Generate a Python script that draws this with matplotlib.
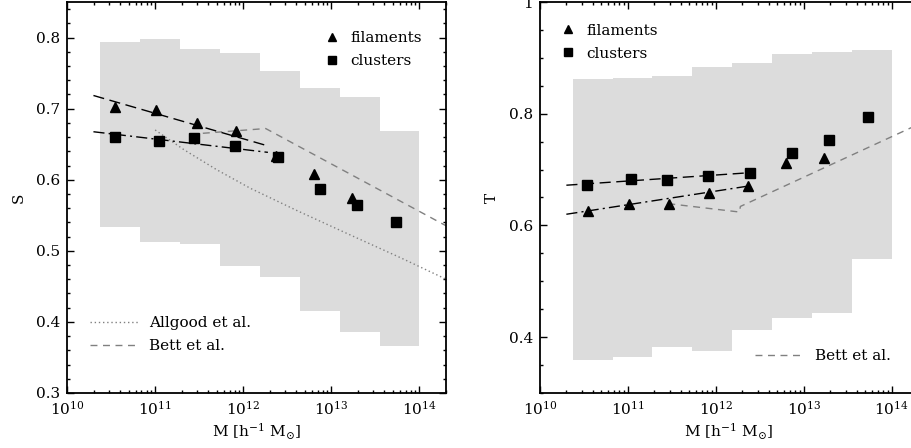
import matplotlib
matplotlib.use("Agg")
import matplotlib.pyplot as plt
from matplotlib.lines import Line2D
from matplotlib.ticker import MultipleLocator, LogLocator, NullFormatter, LogFormatterMathtext

plt.rcParams["font.family"] = ["DejaVu Serif"]
plt.rcParams["mathtext.fontset"] = "dejavuserif"

# ---------- data (log10 of mass in h^-1 Msun) ----------
# step edges of the shaded scatter band
band_edges = [10.37, 10.825, 11.28, 11.735, 12.19, 12.645, 13.10, 13.555, 14.0]
s_hi = [0.794, 0.798, 0.784, 0.778, 0.753, 0.729, 0.717, 0.669]
s_lo = [0.534, 0.512, 0.509, 0.479, 0.463, 0.415, 0.386, 0.366]
t_hi = [0.863, 0.864, 0.867, 0.884, 0.891, 0.907, 0.910, 0.914]
t_lo = [0.359, 0.365, 0.382, 0.376, 0.412, 0.434, 0.443, 0.540]

fil_logm = [10.55, 11.01, 11.47, 11.92, 12.37, 12.80, 13.23]
fil_s = [0.703, 0.698, 0.680, 0.668, 0.634, 0.608, 0.575]
fil_t = [0.626, 0.638, 0.638, 0.658, 0.671, 0.712, 0.721]

clu_logm = [10.54, 11.04, 11.44, 11.91, 12.39, 12.87, 13.29, 13.73]
clu_s = [0.660, 0.655, 0.659, 0.647, 0.632, 0.587, 0.565, 0.540]
clu_t = [0.672, 0.684, 0.681, 0.688, 0.693, 0.730, 0.753, 0.794]

# linear fits to the low-mass points
fil_fit_s_logm, fil_fit_s = [10.30, 12.24], [0.7185, 0.649]
clu_fit_s_logm, clu_fit_s = [10.30, 12.28], [0.6675, 0.6385]
fil_fit_t_logm, fil_fit_t = [10.30, 12.35], [0.620, 0.670]
clu_fit_t_logm, clu_fit_t = [10.30, 12.35], [0.672, 0.694]

# literature relations
allgood_logm = [11.0, 11.33, 11.7, 12.08, 12.62, 13.22, 13.79, 14.32]
allgood_s = [0.670, 0.642, 0.614, 0.588, 0.556, 0.522, 0.490, 0.459]
bett_s_logm = [11.40, 12.255, 14.32]
bett_s = [0.664, 0.672, 0.534]
bett_t_logm = [11.46, 12.27, 12.28, 14.32]
bett_t = [0.639, 0.624, 0.634, 0.782]

BAND = "#dcdcdc"
GREY = "#808080"


def m(logm):
    return [10 ** v for v in logm]


def draw_band(ax, hi, lo):
    edges = m(band_edges)
    for i in range(len(hi)):
        ax.fill_between([edges[i], edges[i + 1]], lo[i], hi[i],
                        color=BAND, lw=0, zorder=0)


def style_axes(ax, ylim, major, minor):
    ax.set_xscale("log")
    ax.set_xlim(1e10, 2e14)
    ax.set_ylim(*ylim)
    ax.xaxis.set_major_locator(LogLocator(base=10, numticks=10))
    ax.xaxis.set_minor_locator(LogLocator(base=10, subs=range(2, 10), numticks=20))
    ax.xaxis.set_major_formatter(LogFormatterMathtext())
    ax.xaxis.set_minor_formatter(NullFormatter())
    ax.yaxis.set_major_locator(MultipleLocator(major))
    ax.yaxis.set_minor_locator(MultipleLocator(minor))
    ax.tick_params(which="both", direction="in", top=True, right=True,
                   width=1.0, labelsize=11, colors="black")
    ax.tick_params(which="major", length=5, pad=5)
    ax.tick_params(which="minor", length=2.5)
    for sp in ax.spines.values():
        sp.set_linewidth(1.3)
    ax.set_xlabel(r"M [h$^{-1}$ M$_{\odot}$]", fontsize=11, labelpad=3)


W, H = 911, 448
fig = plt.figure(figsize=(W / 100, H / 100), dpi=100)
ax1 = fig.add_axes([67 / W, (H - 393) / H, 379 / W, 391 / H])
ax2 = fig.add_axes([540 / W, (H - 393) / H, 378 / W, 391 / H])

mk = dict(ls="none", color="black", zorder=4)

# ---------- left: S ----------
draw_band(ax1, s_hi, s_lo)
ax1.plot(m(fil_fit_s_logm), fil_fit_s, color="black", lw=1.0, dashes=(8, 4), zorder=3)
ax1.plot(m(clu_fit_s_logm), clu_fit_s, color="black", lw=1.0, dashes=(8, 3, 1.5, 3), zorder=3)
ax1.plot(m(allgood_logm), allgood_s, color=GREY, lw=1.0, ls=(0, (1, 2)), zorder=2)
ax1.plot(m(bett_s_logm), bett_s, color=GREY, lw=1.0, dashes=(5, 4), zorder=2)
ax1.plot(m(fil_logm), fil_s, marker="^", ms=7.5, **mk)
ax1.plot(m(clu_logm), clu_s, marker="s", ms=7, **mk)
style_axes(ax1, (0.3, 0.85), 0.1, 0.02)
ax1.set_ylabel("S", fontsize=11, labelpad=7)

pts = [Line2D([], [], marker="^", ms=6, **mk), Line2D([], [], marker="s", ms=6, **mk)]
leg = ax1.legend(pts, ["filaments", "clusters"], loc="upper left",
                 bbox_to_anchor=(0.675, 0.925), frameon=False, fontsize=11,
                 handlelength=1.2, handletextpad=0.6, labelspacing=0.6,
                 borderpad=0, borderaxespad=0)
ax1.add_artist(leg)
lines = [Line2D([], [], color=GREY, lw=1.0, ls=(0, (1, 2))),
         Line2D([], [], color=GREY, lw=1.0, dashes=(5, 4))]
ax1.legend(lines, ["Allgood et al.", "Bett et al."], loc="upper left",
           bbox_to_anchor=(0.06, 0.197), frameon=False, fontsize=11,
           handlelength=3.2, handletextpad=0.7, labelspacing=0.6,
           borderpad=0, borderaxespad=0)

# ---------- right: T ----------
draw_band(ax2, t_hi, t_lo)
ax2.plot(m(clu_fit_t_logm), clu_fit_t, color="black", lw=1.0, dashes=(8, 4), zorder=3)
ax2.plot(m(fil_fit_t_logm), fil_fit_t, color="black", lw=1.0, dashes=(8, 3, 1.5, 3), zorder=3)
ax2.plot(m(bett_t_logm), bett_t, color=GREY, lw=1.0, dashes=(5, 4), zorder=2)
ax2.plot(m(fil_logm), fil_t, marker="^", ms=7.5, **mk)
ax2.plot(m(clu_logm), clu_t, marker="s", ms=7, **mk)
style_axes(ax2, (0.3, 1.0), 0.2, 0.05)
ax2.yaxis.set_major_formatter(plt.FuncFormatter(lambda v, p: f"{v:g}"))
ax2.set_ylabel("T", fontsize=11, labelpad=7)

leg = ax2.legend(pts, ["filaments", "clusters"], loc="upper left",
                 bbox_to_anchor=(0.05, 0.945), frameon=False, fontsize=11,
                 handlelength=1.2, handletextpad=0.6, labelspacing=0.6,
                 borderpad=0, borderaxespad=0)
ax2.add_artist(leg)
ax2.legend([lines[1]], ["Bett et al."], loc="upper left",
           bbox_to_anchor=(0.57, 0.112), frameon=False, fontsize=11,
           handlelength=3.2, handletextpad=0.7,
           borderpad=0, borderaxespad=0)

fig.savefig("out.png", dpi=100)
